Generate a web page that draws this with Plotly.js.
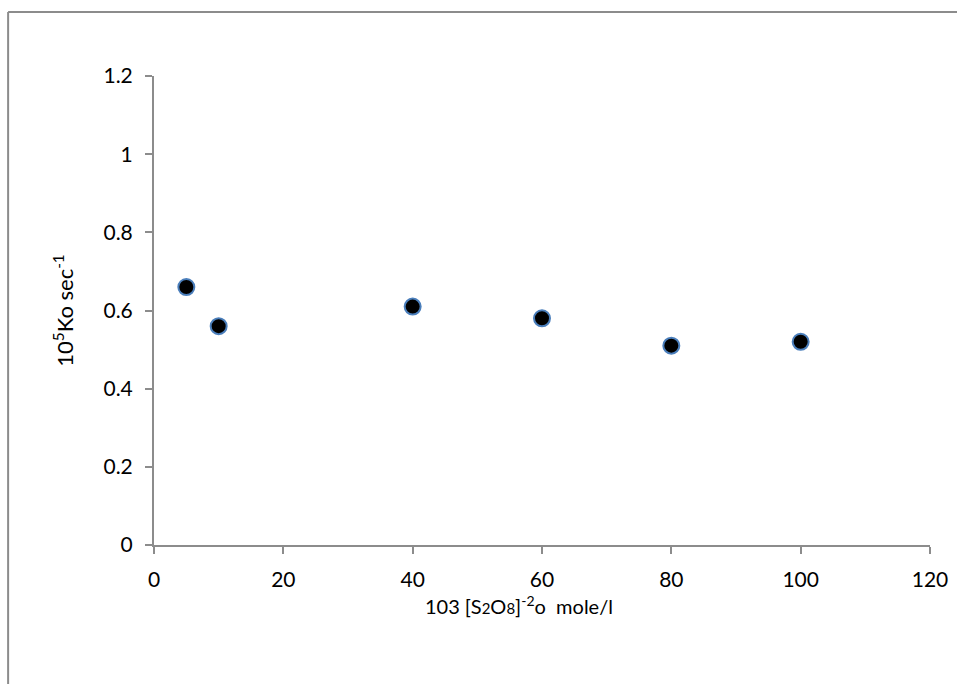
<!DOCTYPE html>
<html>
<head>
<meta charset="utf-8">
<script src="https://cdn.plot.ly/plotly-3.0.1.min.js"></script>
<style>html,body{margin:0;padding:0;background:#fff;}#chart{width:957px;height:684px;}</style>
</head>
<body>
<div id="chart"></div>
<script>
const concentration = [5, 10, 40, 60, 80, 100];
const rateConstant = [0.66, 0.56, 0.61, 0.58, 0.51, 0.52];
const xTicks = [0, 20, 40, 60, 80, 100, 120];
const yTicks = [0, 0.2, 0.4, 0.6, 0.8, 1, 1.2];
const yTickLabels = ['0', '0.2', '0.4', '0.6', '0.8', '1', '1.2'];

const font = 'Lato';
const axisColor = '#8c8c8c';

const trace = {
  x: concentration,
  y: rateConstant,
  type: 'scatter',
  mode: 'markers',
  marker: {color: '#000000', size: 16, line: {color: '#4a7ebb', width: 2}},
  hoverinfo: 'x+y'
};

const pad = '&nbsp;'.repeat(9);

const layout = {
  width: 957, height: 684,
  margin: {l: 154, r: 27, t: 76, b: 139},
  paper_bgcolor: '#ffffff', plot_bgcolor: '#ffffff',
  showlegend: false,
  font: {family: font, size: 20, color: '#000'},
  xaxis: {
    range: [0, 120], tickvals: xTicks, ticktext: xTicks.map(String),
    showgrid: false, zeroline: false, showline: true, linecolor: axisColor, linewidth: 2,
    ticks: 'outside', ticklen: 7, tickwidth: 2, tickcolor: axisColor,
    ticklabelstandoff: 8,
    tickfont: {family: font, size: 21, color: '#000'},
    title: {text: '103 [S<span style="font-size:15px">2</span>O<span style="font-size:15px">8</span>]<sup>-2</sup>o  mole/l' + pad, font: {family: font, size: 20, color: '#000'}, standoff: 10}
  },
  yaxis: {
    range: [0, 1.2], tickvals: yTicks, ticktext: yTickLabels,
    showgrid: false, zeroline: false, showline: true, linecolor: axisColor, linewidth: 2,
    ticks: 'outside', ticklen: 7, tickwidth: 2, tickcolor: axisColor,
    ticklabelstandoff: 8,
    tickfont: {family: font, size: 21, color: '#000'},
    title: {text: '10<sup>5</sup>Ko sec<sup>-1</sup>', font: {family: font, size: 22, color: '#000'}, standoff: 24}
  },
  shapes: [
    {type: 'line', xref: 'paper', yref: 'paper', x0: -0.188, x1: 1.2, y0: 1.1365, y1: 1.1365, line: {color: '#8c8c8c', width: 2}},
    {type: 'line', xref: 'paper', yref: 'paper', x0: -0.188, x1: -0.188, y0: 1.1365, y1: -0.4, line: {color: '#8c8c8c', width: 2}}
  ]
};

Plotly.newPlot('chart', [trace], layout, {displayModeBar: false, staticPlot: true});
</script>
</body>
</html>
